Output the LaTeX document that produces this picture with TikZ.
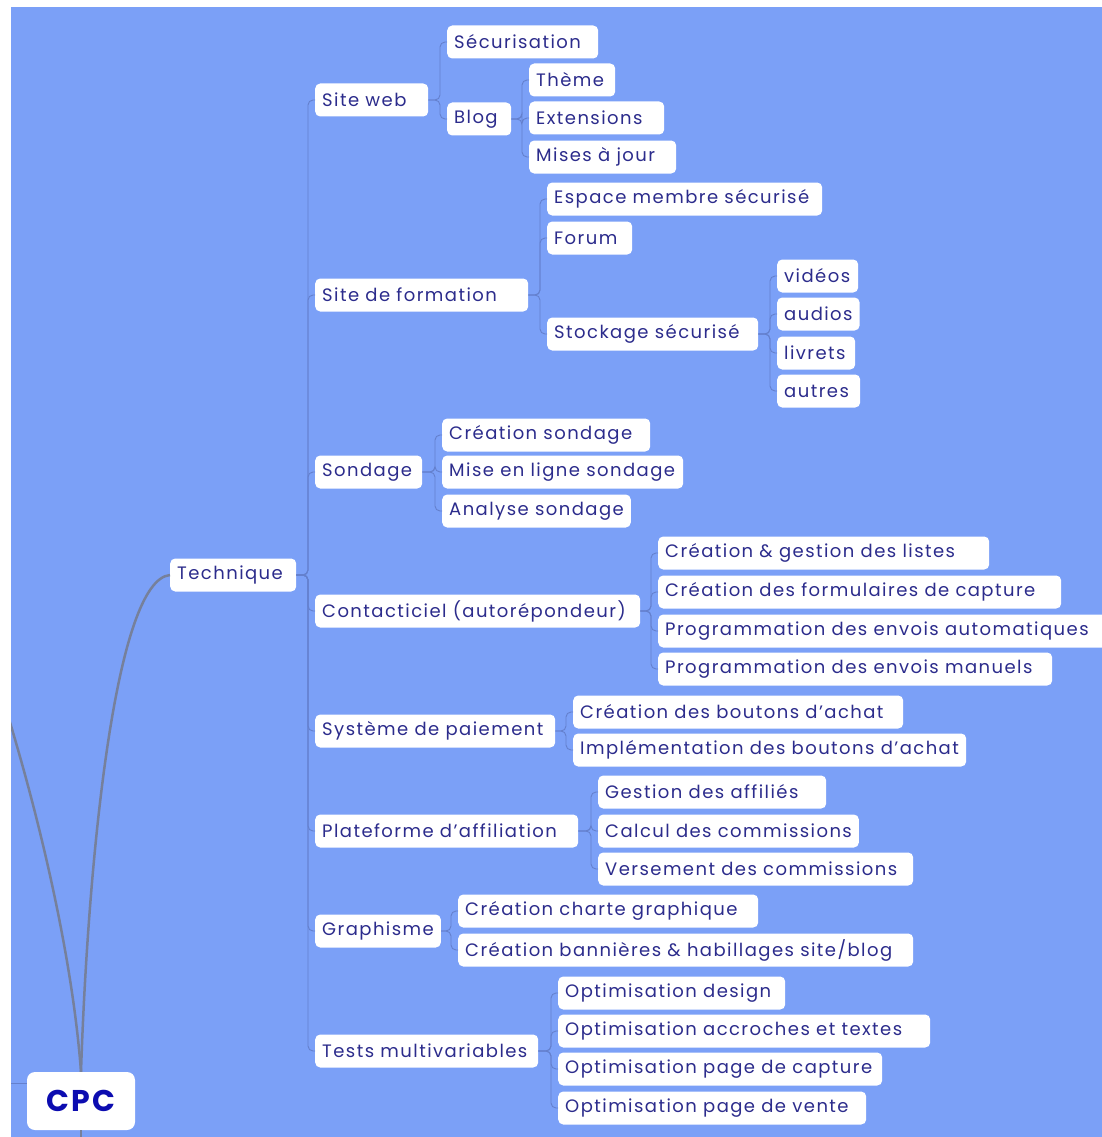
\documentclass[tikz,border=0pt]{standalone}
\usepackage{fontspec}
\setmainfont{Poppins}[LetterSpace=8]
\usetikzlibrary{calc}
\definecolor{bgblue}{RGB}{123,160,247}
\definecolor{txt}{RGB}{44,44,140}
\definecolor{cpcblue}{RGB}{12,12,176}
\definecolor{spine}{RGB}{100,128,205}
\definecolor{trunk}{RGB}{118,128,155}
\tikzset{
 box/.style={fill=white, rounded corners=5pt, inner xsep=7pt, inner ysep=0pt, minimum height=33pt, text=txt, font=\fontsize{18}{21}\selectfont, anchor=west},
 conn/.style={draw=spine, line width=0.9pt, rounded corners=5pt},
 trunkline/.style={draw=trunk, line width=2.5pt},
}
\newsavebox\mmbox
\newcommand\mmfit[2]{\sbox\mmbox{#2}\ifdim\wd\mmbox<\dimexpr#1pt-14pt\relax\makebox[\dimexpr#1pt-14pt\relax][l]{\usebox\mmbox}\else\usebox\mmbox\fi}
\newcommand\mmnode[5]{\node[box] (#1) at (#2,#3) {\mmfit{#4}{#5}};}
\newcommand\mmlink[2]{\draw[conn] (#1.east) -| ($(#2.west)+(-7,0)$) -- (#2.west);}
\begin{document}
\begin{tikzpicture}[x=1pt,y=-1pt]
\useasboundingbox (0,0) rectangle (1102,1137);
\fill[white] (0,0) rectangle (1102,1137);
\begin{scope}
\clip (11,7) rectangle (1102,1137);
\fill[bgblue] (11,7) rectangle (1102,1137);
% nodes
\node[box, anchor=center, minimum width=108pt, minimum height=58pt, rounded corners=8pt, text=cpcblue, font=\fontsize{30}{34}\selectfont\bfseries] (cpc) at (81,1101) {CPC};
\mmnode{tech}{170}{575}{126}{Technique}
\mmnode{siteweb}{315}{100}{113}{Site web}
\mmnode{secur}{447}{42}{151}{Sécurisation}
\mmnode{blog}{447}{119}{64}{Blog}
\mmnode{theme}{529}{80}{86}{Thème}
\mmnode{ext}{529}{118}{135}{Extensions}
\mmnode{maj}{529}{157}{147}{Mises à jour}
\mmnode{siteform}{315}{295}{213}{Site de formation}
\mmnode{espace}{547}{199}{275}{Espace membre sécurisé}
\mmnode{forum}{547}{238}{85}{Forum}
\mmnode{stock}{547}{334}{211}{Stockage sécurisé}
\mmnode{videos}{777}{276}{81}{vidéos}
\mmnode{audios}{777}{314}{80}{audios}
\mmnode{livrets}{777}{353}{78}{livrets}
\mmnode{autres}{777}{391}{83}{autres}
\mmnode{sondage}{315}{472}{107}{Sondage}
\mmnode{crsond}{442}{435}{208}{Création sondage}
\mmnode{mlsond}{442}{472}{241}{Mise en ligne sondage}
\mmnode{ansond}{442}{511}{186}{Analyse sondage}
\mmnode{contact}{315}{611}{325}{Contacticiel (autorépondeur)}
\mmnode{cgl}{658}{553}{331}{Création \& gestion des listes}
\mmnode{cfc}{658}{592}{403}{Création des formulaires de capture}
\mmnode{pea}{658}{631}{460}{Programmation des envois automatiques}
\mmnode{pem}{658}{669}{394}{Programmation des envois manuels}
\mmnode{paie}{315}{731}{240}{Système de paiement}
\mmnode{cba}{573}{712}{330}{Création des boutons d'achat}
\mmnode{iba}{573}{750}{393}{Implémentation des boutons d'achat}
\mmnode{affil}{315}{831}{263}{Plateforme d'affiliation}
\mmnode{gaf}{598}{792}{228}{Gestion des affiliés}
\mmnode{ccom}{598}{831}{255}{Calcul des commissions}
\mmnode{vcom}{598}{869}{315}{Versement des commissions}
\mmnode{graph}{315}{931}{123}{Graphisme}
\mmnode{ccg}{458}{911}{300}{Création charte graphique}
\mmnode{cbh}{458}{950}{455}{Création bannières \& habillages site/blog}
\mmnode{tests}{315}{1051}{223}{Tests multivariables}
\mmnode{od}{558}{993}{227}{Optimisation design}
\mmnode{oat}{558}{1031}{372}{Optimisation accroches et textes}
\mmnode{opc}{558}{1069}{324}{Optimisation page de capture}
\mmnode{opv}{558}{1108}{308}{Optimisation page de vente}
% trunk curves
\coordinate (leftend) at (0,690);
\coordinate (botend) at (81,1140);
\coordinate (leftin) at (0,1083);
\draw[trunkline] (cpc.north) .. controls (88,860) and (115,580) .. (tech.west);
\draw[trunkline] (cpc.north) .. controls (72,950) and (35,800) .. (leftend);
\draw[trunkline] (cpc.south) -- (botend);
\draw[conn] (leftin) -- (leftin -| cpc.west);
% links
\foreach \c in {siteweb,siteform,sondage,contact,paie,affil,graph,tests} {\mmlink{tech}{\c}}
\mmlink{siteweb}{secur}\mmlink{siteweb}{blog}
\foreach \c in {theme,ext,maj} {\mmlink{blog}{\c}}
\foreach \c in {espace,forum,stock} {\mmlink{siteform}{\c}}
\foreach \c in {videos,audios,livrets,autres} {\mmlink{stock}{\c}}
\foreach \c in {crsond,mlsond,ansond} {\mmlink{sondage}{\c}}
\foreach \c in {cgl,cfc,pea,pem} {\mmlink{contact}{\c}}
\foreach \c in {cba,iba} {\mmlink{paie}{\c}}
\foreach \c in {gaf,ccom,vcom} {\mmlink{affil}{\c}}
\foreach \c in {ccg,cbh} {\mmlink{graph}{\c}}
\foreach \c in {od,oat,opc,opv} {\mmlink{tests}{\c}}
\end{scope}
\end{tikzpicture}
\end{document}
